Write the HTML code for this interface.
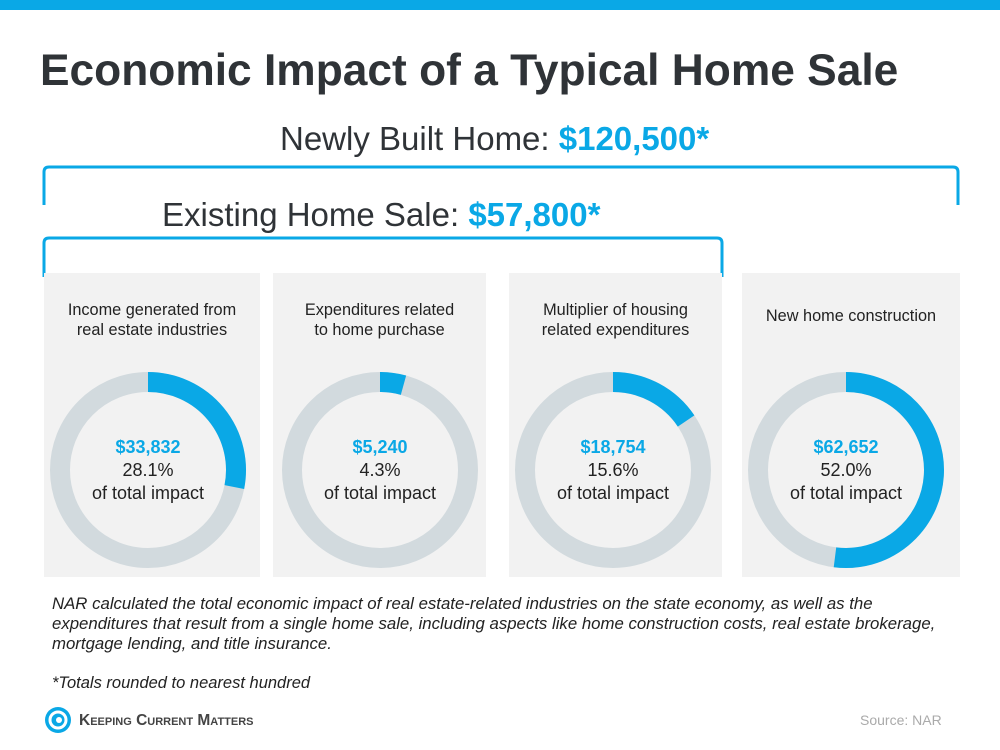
<!DOCTYPE html>
<html><head><meta charset="utf-8"><style>
body{margin:0;width:1000px;height:750px;background:#fff;font-family:"Liberation Sans",sans-serif;position:relative;overflow:hidden;color:#333}
.a{position:absolute}
.blue{color:#0aa8e6;font-weight:bold}
.panel{position:absolute;top:273px;height:304px;background:#f2f2f2}
.ptitle{position:absolute;top:27px;left:0;right:0;text-align:center;font-size:16.3px;line-height:20px;color:#222}
</style></head><body>
<div class="a" style="left:0;top:0;width:1000px;height:10px;background:#0aa8e6"></div>
<div class="a" style="left:40px;top:46px;font-size:44.3px;font-weight:bold;color:#2f3337">Economic Impact of a Typical Home Sale</div>
<div class="a" style="left:280px;top:120px;font-size:33px;color:#2f3337">Newly Built Home: <span class="blue">$120,500*</span></div>
<div class="a" style="left:162px;top:196px;font-size:33px;color:#2f3337">Existing Home Sale: <span class="blue">$57,800*</span></div>
<svg class="a" style="left:0;top:0" width="1000" height="750">
<path d="M44 205 L44 172 Q44 167 49 167 L953 167 Q958 167 958 172 L958 205" fill="none" stroke="#0aa8e6" stroke-width="3"/>
<path d="M44 277 L44 243 Q44 238 49 238 L717 238 Q722 238 722 243 L722 277" fill="none" stroke="#0aa8e6" stroke-width="3"/>
</svg>
<div id="panels"></div>
<div class="a" style="left:52px;top:594px;white-space:nowrap;font-size:16.8px;line-height:20px;font-style:italic;color:#222">NAR calculated the total economic impact of real estate-related industries on the state economy, as well as the<br>expenditures that result from a single home sale, including aspects like home construction costs, real estate brokerage,<br>mortgage lending, and title insurance.</div>
<div class="a" style="left:52px;top:674px;font-size:16.5px;font-style:italic;color:#222">*Totals rounded to nearest hundred</div>
<svg class="a" style="left:44px;top:706px" width="28" height="28"><circle cx="14" cy="14" r="13" fill="#0aa8e6"/><circle cx="14" cy="14" r="8" fill="none" stroke="#fff" stroke-width="3"/><circle cx="15" cy="14" r="3" fill="#fff"/></svg>
<div class="a" style="left:79px;top:712px;font-size:15.5px;font-weight:bold;color:#444;font-variant:small-caps;letter-spacing:0px">Keeping Current Matters</div>
<div class="a" style="left:860px;top:712px;font-size:14px;color:#aaa">Source: NAR</div>
<script>
const titles=["Income generated from\nreal estate industries","Expenditures related\nto home purchase","Multiplier of housing\nrelated expenditures","New home construction"];
const amounts=["$33,832","$5,240","$18,754","$62,652"];
const percents=[28.1,4.3,15.6,52.0];
const lefts=[44,273,509,742],widths=[216,213,213,218],centers=[104,107,104,104];
const host=document.getElementById('panels');
for(let i=0;i<titles.length;i++){
 const p=document.createElement('div');p.className='panel';
 
 
 p.style.left=lefts[i]+'px';p.style.width=widths[i]+'px';
 const t=document.createElement('div');t.className='ptitle';
 
 
 t.innerHTML=titles[i].replace('\n','<br>');
 if(!titles[i].includes('\n'))t.style.top='33px';
 p.appendChild(t);
 const cx=centers[i], cy=197, r=88, sw=20;
 const frac=percents[i]/100;
 const ang=frac*2*Math.PI;
 const ex=cx+r*Math.sin(ang), ey=cy-r*Math.cos(ang);
 const large=frac>0.5?1:0;
 const ns='http://www.w3.org/2000/svg';
 const svg=document.createElementNS(ns,'svg');
 svg.setAttribute('width',widths[i]);svg.setAttribute('height',304);
 svg.style.position='absolute';svg.style.left='0';svg.style.top='0';
 
 
 const c=document.createElementNS(ns,'circle');
 c.setAttribute('cx',cx);c.setAttribute('cy',cy);c.setAttribute('r',r);
 c.setAttribute('fill','none');c.setAttribute('stroke','#d2dade');c.setAttribute('stroke-width',sw);
 
 
 svg.appendChild(c);
 const a=document.createElementNS(ns,'path');
 a.setAttribute('d',`M${cx} ${cy-r} A${r} ${r} 0 ${large} 1 ${ex} ${ey}`);
 a.setAttribute('fill','none');a.setAttribute('stroke','#0aa8e6');a.setAttribute('stroke-width',sw);
 
 
 svg.appendChild(a);
 p.appendChild(svg);
 const l=document.createElement('div');
 
 
 l.style.cssText=`position:absolute;left:${cx-80}px;width:160px;top:163px;text-align:center;font-size:18px;line-height:23px;color:#222`;
 l.innerHTML=`<span class="blue">${amounts[i]}</span><br>${percents[i].toFixed(1)}%<br>of total impact`;
 p.appendChild(l);
 host.appendChild(p);
}
</script>
</body></html>
